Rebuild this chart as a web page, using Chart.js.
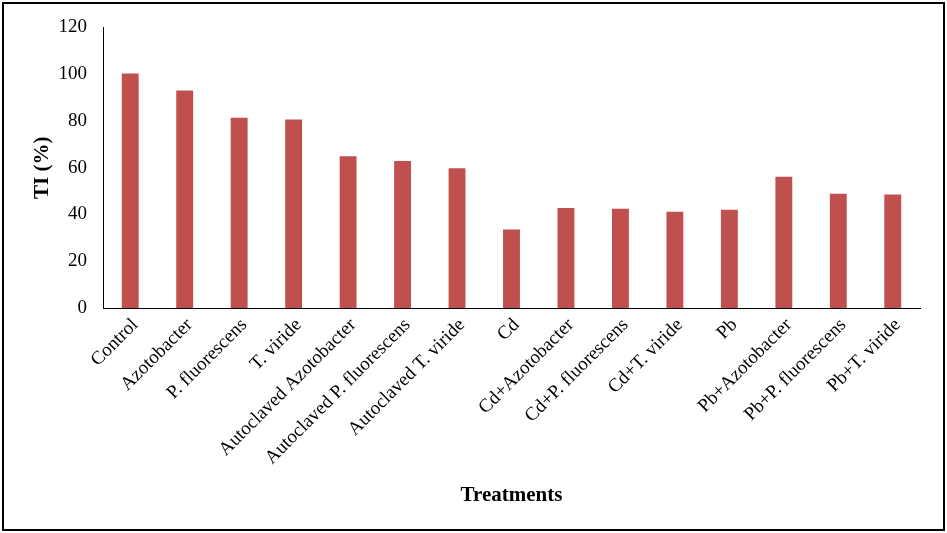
<!DOCTYPE html>
<html>
<head>
<meta charset="utf-8">
<title>TI (%) by treatment</title>
<script src="https://cdn.jsdelivr.net/npm/chart.js@4/dist/chart.umd.min.js"></script>
<style>
  html, body { margin: 0; padding: 0; background: #fff; }
  #wrap { width: 947px; height: 533px; }
</style>
</head>
<body>
<div id="wrap"><canvas id="ti" width="947" height="533"></canvas></div>
<script>
var treatments = [
  'Control', 'Azotobacter', 'P. fluorescens', 'T. viride',
  'Autoclaved Azotobacter', 'Autoclaved P. fluorescens', 'Autoclaved T. viride',
  'Cd', 'Cd+Azotobacter', 'Cd+P. fluorescens', 'Cd+T. viride',
  'Pb', 'Pb+Azotobacter', 'Pb+P. fluorescens', 'Pb+T. viride'
];
var tiValues = [100.3, 93, 81.4, 80.6, 64.9, 62.9, 59.8, 33.6, 42.8, 42.4, 41.2, 42, 56.1, 48.9, 48.5];
var yMax = 120;
var yStep = 20;

// frame round the whole picture
var framePlugin = {
  id: 'frame',
  beforeDraw: function(chart) {
    var c = chart.ctx;
    c.save();
    c.fillStyle = '#fff';
    c.fillRect(0, 0, chart.width, chart.height);
    c.strokeStyle = '#000';
    c.lineWidth = 2;
    c.strokeRect(3, 3, chart.width - 6, chart.height - 6);
    c.restore();
  }
};

var serif = "'Liberation Serif', 'Times New Roman', serif";

var chartdata = {
  labels: treatments,
  datasets: [
    {
      label: 'TI (%)',
      backgroundColor: '#C0504D',
      borderWidth: 0,
      barPercentage: 0.31,
      categoryPercentage: 1.0,
      data: tiValues
    }
  ]
};

var ctx = document.getElementById('ti');

var barGraph = new Chart(ctx, {
  type: 'bar',
  data: chartdata,
  plugins: [framePlugin],
  options: {
    responsive: false,
    animation: false,
    layout: { padding: { left: 0, top: 25, right: 27, bottom: 0 } },
    plugins: {
      legend: { display: false },
      tooltip: { enabled: false }
    },
    scales: {
      x: {
        grid: { display: false, drawTicks: false },
        border: { display: true, color: '#000', width: 1 },
        ticks: {
          color: '#000',
          autoSkip: false,
          minRotation: 45,
          maxRotation: 45,
          padding: 6,
          labelOffset: 5,
          font: { family: serif, size: 19 }
        },
        title: {
          display: true,
          text: 'Treatments',
          color: '#000',
          padding: { top: 0, bottom: 25 },
          font: { family: serif, size: 21, weight: 'bold' }
        },
        afterFit: function(scale) { scale.height = 225; }
      },
      y: {
        min: 0,
        max: yMax,
        grid: { display: false, drawTicks: false },
        border: { display: true, color: '#000', width: 1 },
        ticks: {
          stepSize: yStep,
          color: '#000',
          padding: 16,
          font: { family: serif, size: 19 }
        },
        title: {
          display: true,
          text: 'TI (%)',
          color: '#000',
          padding: { top: 30, bottom: 0 },
          font: { family: serif, size: 21, weight: 'bold' }
        },
        afterFit: function(scale) { scale.width = 103; }
      }
    }
  }
});
</script>
</body>
</html>
